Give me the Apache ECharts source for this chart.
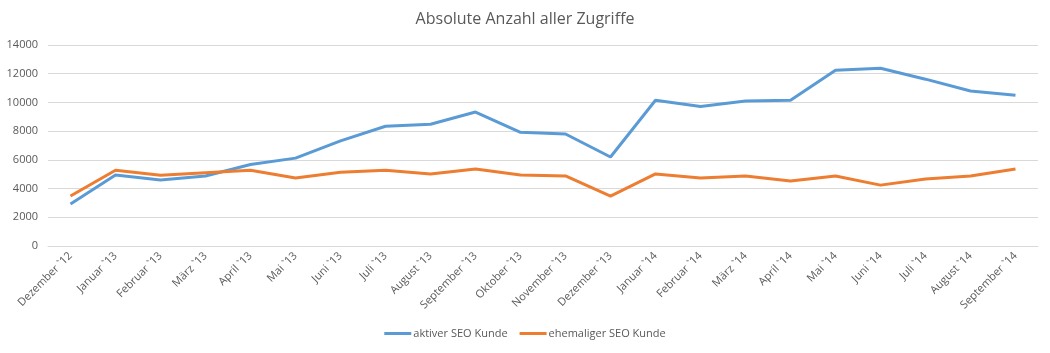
<!DOCTYPE html>
<html>
<head>
<meta charset="utf-8">
<script src="https://cdn.jsdelivr.net/npm/echarts@6/dist/echarts.min.js"></script>
<style>html,body{margin:0;padding:0;background:#fff}#c{width:1050px;height:353px}</style>
</head>
<body>
<div id="c"></div>
<script>
const categories = ["Dezember `12","Januar `13","Februar `13","März `13","April `13","Mai `13","Juni `13","Juli `13","August `13","September `13","Oktober `13","November `13","Dezember `13","Januar `14","Februar `14","März `14","April `14","Mai `14","Juni `14","Juli `14","August `14","September `14"];
const aktiv = [2920,4950,4600,4880,5680,6120,7320,8340,8480,9330,7920,7800,6200,10150,9720,10100,10150,12240,12380,11620,10800,10500];
const ehemalig = [3480,5280,4930,5110,5280,4740,5130,5280,5020,5360,4950,4880,3480,5020,4740,4880,4520,4880,4240,4660,4880,5360];
const seriesNames = ["aktiver SEO Kunde","ehemaliger SEO Kunde"];
const yTicks = {min:0, max:14000, interval:2000};

const chart = echarts.init(document.getElementById('c'));
const font = '"Open Sans", "Liberation Sans", sans-serif';
chart.setOption({
  animation:false,
  title:{text:"Absolute Anzahl aller Zugriffe", left:'center', top:6,
    textStyle:{fontFamily:font, fontSize:16, fontWeight:'normal', color:'#595959'}},
  legend:{bottom:9, left:'center', itemWidth:27, itemHeight:3, itemGap:12, icon:'rect',
    textStyle:{fontFamily:font, fontSize:11, color:'#595959', padding:[0,0,0,-3]}},
  grid:{left:48, right:12, top:45, bottom:107, containLabel:false},
  xAxis:{type:'category', data:categories, boundaryGap:true,
    axisLine:{lineStyle:{color:'#d9d9d9'}}, axisTick:{show:false},
    axisLabel:{rotate:45, interval:0, fontFamily:font, fontSize:11, color:'#595959', margin:8}},
  yAxis:{type:'value', min:yTicks.min, max:yTicks.max, interval:yTicks.interval,
    axisLine:{show:false}, axisTick:{show:false},
    splitLine:{lineStyle:{color:'#d9d9d9'}},
    axisLabel:{fontFamily:font, fontSize:11, color:'#595959', margin:10, formatter:function(v){return String(v);}}},
  series:[
    {name:seriesNames[0], type:'line', data:aktiv, symbol:'none', lineStyle:{width:3, color:'#5B9BD5'}, itemStyle:{color:'#5B9BD5'}},
    {name:seriesNames[1], type:'line', data:ehemalig, symbol:'none', lineStyle:{width:3, color:'#ED7D31'}, itemStyle:{color:'#ED7D31'}}
  ]
});
</script>
</body>
</html>
